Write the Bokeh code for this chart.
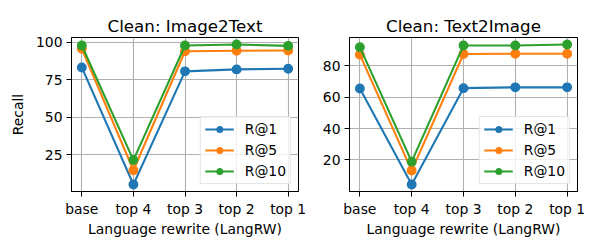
from bokeh.plotting import figure
from bokeh.layouts import row
from bokeh.models import Range1d, FixedTicker, Legend
from bokeh.embed import file_html
from bokeh.resources import INLINE

categories = ["base", "top 4", "top 3", "top 2", "top 1"]
series_names = ["R@1", "R@5", "R@10"]
colors = ["#1f77b4", "#ff7f0e", "#2ca02c"]

i2t_r1 = [83.2, 5.1, 80.6, 81.9, 82.3]
i2t_r5 = [95.6, 14.6, 94.0, 94.3, 94.5]
i2t_r10 = [97.8, 21.4, 97.8, 98.5, 97.6]

t2i_r1 = [65.6, 4.2, 65.8, 66.3, 66.3]
t2i_r5 = [87.2, 13.1, 87.6, 87.8, 87.8]
t2i_r10 = [92.0, 18.8, 93.1, 93.1, 93.7]

i2t_ticks = [25, 50, 75, 100]
t2i_ticks = [20, 40, 60, 80]

FONT = "DejaVu Sans"


def make_panel(title, series, yticks, width, left, right, ylabel):
    allv = [v for s in series for v in s]
    lo, hi = min(allv), max(allv)
    pad = (hi - lo) * 0.05
    xs = list(range(len(categories)))
    p = figure(width=width, height=250, output_backend="svg", toolbar_location=None,
               x_range=Range1d(-0.2, len(categories) - 1 + 0.2),
               y_range=Range1d(lo - pad, hi + pad),
               min_border_left=left, min_border_right=right,
               min_border_top=37, min_border_bottom=59,
               title=title)
    p.title.align = "center"
    p.title.text_font = FONT
    p.title.text_font_size = "16.7px"
    p.title.text_font_style = "normal"
    p.title.text_color = "black"
    p.title.standoff = 4
    p.outline_line_color = "black"
    p.outline_line_width = 1
    p.background_fill_color = "white"
    p.border_fill_color = "white"

    p.xaxis.ticker = FixedTicker(ticks=xs)
    p.xaxis.major_label_overrides = {i: c for i, c in enumerate(categories)}
    p.yaxis.ticker = FixedTicker(ticks=yticks)
    for ax in (p.xaxis, p.yaxis):
        ax.major_tick_out = 5
        ax.major_tick_in = 0
        ax.minor_tick_line_color = None
        ax.major_label_text_font = FONT
        ax.major_label_text_font_size = "13.9px"
        ax.major_label_text_color = "black"
        ax.axis_line_color = "black"
        ax.major_tick_line_color = "black"
        ax.major_label_standoff = 4
        ax.axis_label_text_font = FONT
        ax.axis_label_text_font_size = "13.9px"
        ax.axis_label_text_font_style = "normal"
        ax.axis_label_text_color = "black"
    p.xaxis.axis_label_standoff = 1
    p.yaxis.axis_label_standoff = 7
    p.xaxis.axis_label = "Language rewrite (LangRW)"
    if ylabel:
        p.yaxis.axis_label = ylabel
    p.grid.grid_line_color = "#b0b0b0"
    p.grid.grid_line_width = 1.1

    items = []
    for name, vals, col in zip(series_names, series, colors):
        r1 = p.line(xs, vals, line_color=col, line_width=2.1)
        r2 = p.scatter(xs, vals, size=8.5, fill_color=col, line_color=col, line_width=1.4)
        items.append((name, [r1, r2]))
    leg = Legend(items=items, location="bottom_right")
    leg.label_text_font = FONT
    leg.label_text_font_size = "13.9px"
    leg.label_text_color = "black"
    leg.glyph_width = 29
    leg.glyph_height = 14
    leg.label_height = 14
    leg.spacing = 5
    leg.label_standoff = 11
    leg.padding = 4
    leg.margin = 7
    leg.border_line_color = "#cccccc"
    leg.border_line_width = 1
    leg.background_fill_color = "white"
    leg.background_fill_alpha = 0.8
    p.add_layout(leg)
    return p


p1 = make_panel("Clean: Image2Text", [i2t_r1, i2t_r5, i2t_r10], i2t_ticks, 318, 71, 20, "Recall")
p2 = make_panel("Clean: Text2Image", [t2i_r1, t2i_r5, t2i_r10], t2i_ticks, 282, 31, 23, None)

layout = row(p1, p2)
open("out.html", "w").write(file_html(layout, INLINE))
